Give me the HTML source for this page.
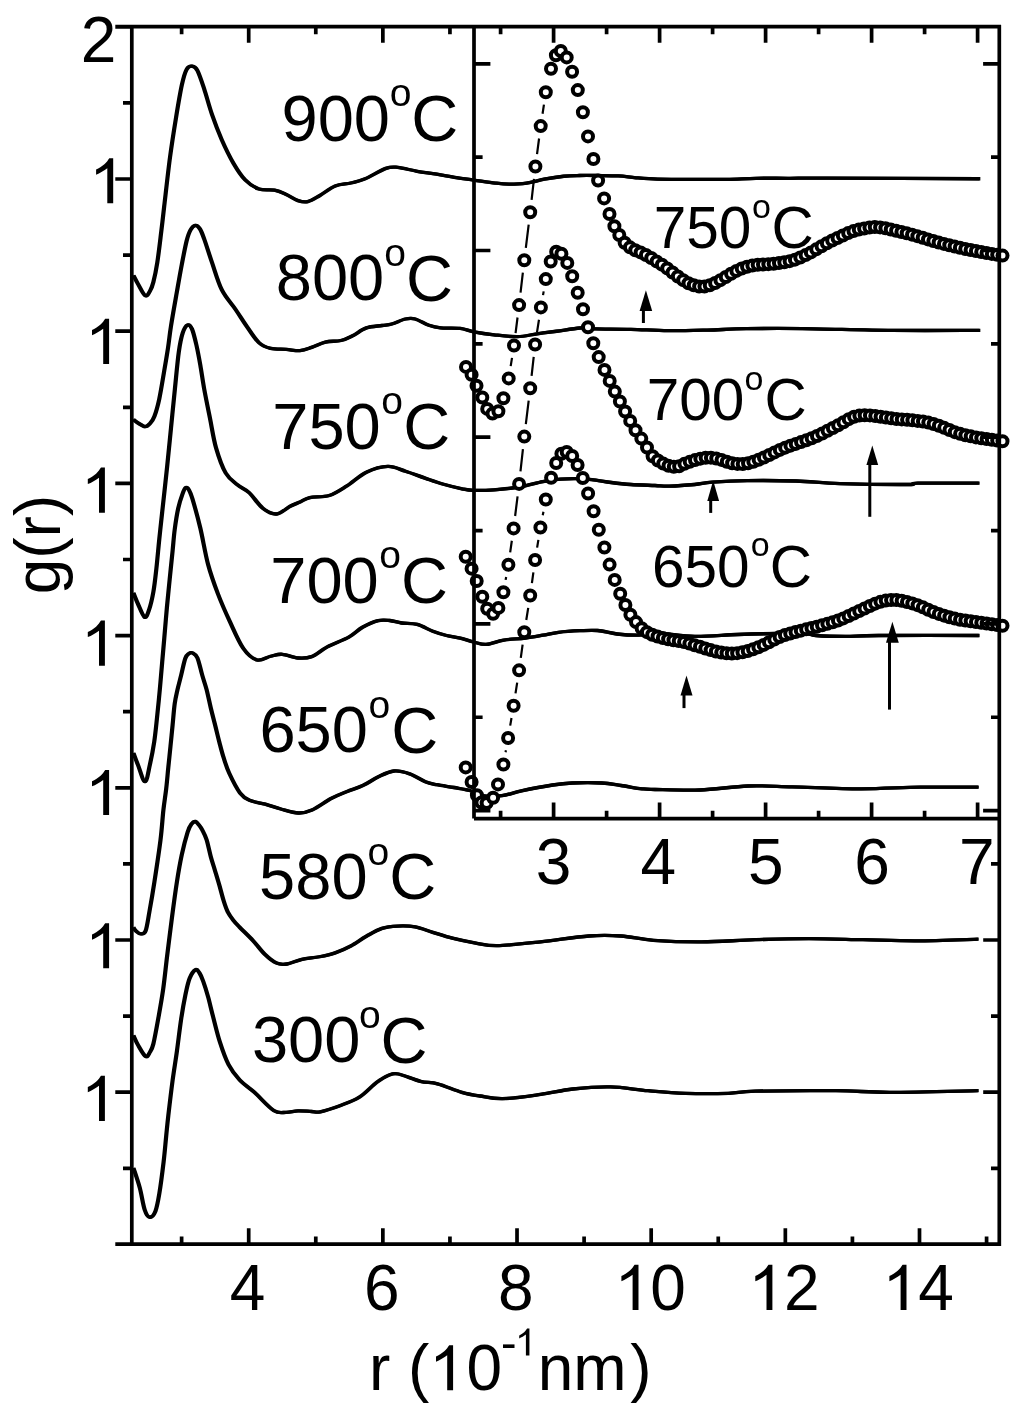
<!DOCTYPE html><html><head><meta charset="utf-8"><style>html,body{margin:0;padding:0;background:#fff;}svg{display:block;filter:grayscale(1);}text{font-family:"Liberation Sans",sans-serif;fill:#000;}</style></head><body>
<svg width="1024" height="1413" viewBox="0 0 1024 1413">
<rect width="1024" height="1413" fill="#fff"/>
<defs><path id="one" d="M0.373,0 L0.373,-0.705 L0.312,-0.705 C0.295,-0.68 0.27,-0.64 0.235,-0.61 C0.195,-0.575 0.15,-0.55 0.106,-0.528 L0.106,-0.448 C0.16,-0.47 0.235,-0.51 0.281,-0.548 L0.281,0 Z"/></defs>
<g id="curves" fill="none" stroke="#000" stroke-width="3.3" stroke-linejoin="round" stroke-linecap="butt" transform="translate(-0.45,0)">
<path d="M133.5,275.5 C134.25,276.92 136.05,280.63 138,284 C139.95,287.37 143.2,294.53 145.2,295.7 C147.2,296.87 148.63,293.28 150,291 C151.37,288.72 152.18,286.75 153.4,282 C154.62,277.25 155.98,270.95 157.3,262.5 C158.62,254.05 160.15,240.67 161.3,231.3 C162.45,221.93 162.75,218.62 164.2,206.3 C165.65,193.98 168.05,172.05 170,157.4 C171.95,142.75 173.93,130.43 175.9,118.4 C177.87,106.37 180.02,93.35 181.8,85.2 C183.58,77.05 184.88,72.67 186.6,69.5 C188.32,66.33 190.3,66.03 192.1,66.2 C193.9,66.37 195.38,66.7 197.4,70.5 C199.42,74.3 201.77,81.67 204.2,89 C206.63,96.33 209.07,106.03 212,114.5 C214.93,122.97 218.22,131.67 221.8,139.8 C225.38,147.93 229.6,156.62 233.5,163.3 C237.4,169.98 240.97,175.62 245.2,179.9 C249.43,184.18 254.02,187.28 258.9,189 C263.78,190.72 269.93,189.28 274.5,190.2 C279.07,191.12 282.38,192.77 286.3,194.5 C290.22,196.23 294.42,199.42 298,200.6 C301.58,201.78 304.22,202.42 307.8,201.6 C311.38,200.78 314.93,198.3 319.5,195.7 C324.07,193.1 329.98,188.12 335.2,186 C340.42,183.88 345.92,184.15 350.8,183 C355.68,181.85 358.65,181.53 364.5,179.1 C370.35,176.67 380.37,170.35 385.9,168.4 C391.43,166.45 392.48,166.92 397.7,167.4 C402.92,167.88 410.7,170.17 417.2,171.3 C423.7,172.43 430.19,173.13 436.7,174.2 C443.21,175.27 450.07,176.72 456.25,177.7 C462.43,178.68 467.28,179.2 473.8,180.1 C480.32,181 489.53,182.43 495.4,183.1 C501.27,183.77 503.8,184.1 509,184.1 C514.2,184.1 520.73,183.92 526.6,183.1 C532.47,182.28 538.01,180.34 544.2,179.2 C550.39,178.06 557.88,176.87 563.75,176.25 C569.62,175.63 573.86,175.62 579.4,175.5 C584.94,175.38 590.5,175.43 597,175.5 C603.5,175.57 611.9,175.52 618.4,175.9 C624.9,176.28 629.48,177.25 636,177.8 C642.52,178.35 648.88,178.95 657.5,179.2 C666.12,179.45 676.17,179.28 687.7,179.3 C699.23,179.32 715.32,179.47 726.7,179.3 C738.08,179.13 745.45,178.47 756,178.3 C766.55,178.13 778.13,178.33 790,178.3 C801.87,178.27 795.55,178.03 827.2,178.1 C858.85,178.17 954.45,178.64 979.9,178.75"/>
<path d="M133.5,419.5 C134.25,420.08 136.05,421.82 138,423 C139.95,424.18 143.2,426.52 145.2,426.6 C147.2,426.68 148.47,425.2 150,423.5 C151.53,421.8 152.85,420.52 154.4,416.4 C155.95,412.28 157.67,406.37 159.3,398.8 C160.93,391.23 162.75,379.47 164.2,371 C165.65,362.53 166.87,355.5 168,348 C169.13,340.5 169.52,335.37 171,326 C172.48,316.63 175.1,302.05 176.9,291.8 C178.7,281.55 180.18,272.97 181.8,264.5 C183.42,256.03 185.15,246.75 186.6,241 C188.05,235.25 189.03,232.6 190.5,230 C191.97,227.4 193.82,225.57 195.4,225.4 C196.98,225.23 198.53,226.73 200,229 C201.47,231.27 202.2,233.42 204.2,239 C206.2,244.58 209.07,254.03 212,262.5 C214.93,270.97 217.88,281.98 221.8,289.8 C225.72,297.62 231.27,303.2 235.5,309.4 C239.73,315.6 243.3,321.47 247.2,327 C251.1,332.53 255,339.03 258.9,342.6 C262.8,346.17 266.03,347.27 270.6,348.4 C275.17,349.53 281.4,349.03 286.3,349.4 C291.2,349.77 295.77,350.93 300,350.6 C304.23,350.27 307.47,348.82 311.7,347.4 C315.93,345.98 320.52,343.25 325.4,342.1 C330.28,340.95 336.45,341.57 341,340.5 C345.55,339.43 348.47,337.8 352.7,335.7 C356.93,333.6 361.52,329.6 366.4,327.9 C371.28,326.2 377.77,326.15 382,325.5 C386.23,324.85 387.88,325.08 391.8,324 C395.72,322.92 401.6,319.83 405.5,319 C409.4,318.17 411.3,317.95 415.2,319 C419.1,320.05 424.67,323.82 428.9,325.3 C433.13,326.78 435.38,327.38 440.6,327.9 C445.82,328.42 454.67,327.75 460.2,328.4 C465.73,329.05 468.15,330.73 473.8,331.8 C479.45,332.87 486.82,333.98 494.1,334.8 C501.38,335.62 510.35,336.87 517.5,336.7 C524.65,336.53 530.48,334.71 537,333.8 C543.52,332.89 549.43,332.22 556.6,331.25 C563.77,330.28 573.5,328.39 580,328 C586.5,327.61 587.13,328.68 595.6,328.9 C604.07,329.12 618.72,329 630.8,329.3 C642.88,329.6 655.37,330.57 668.1,330.7 C680.83,330.83 694.18,330.43 707.2,330.1 C720.23,329.77 730.37,328.95 746.25,328.7 C762.13,328.45 778.16,328.32 802.5,328.6 C826.84,328.88 862.73,330.1 892.3,330.4 C921.87,330.7 965.3,330.4 979.9,330.4"/>
<path d="M133.5,593 C134.25,594.83 136.15,599.97 138,604 C139.85,608.03 142.77,616.2 144.6,617.2 C146.43,618.2 147.53,614.23 149,610 C150.47,605.77 152.17,598.73 153.4,591.8 C154.63,584.87 155.42,577.2 156.4,568.4 C157.38,559.6 158.33,548.4 159.3,539 C160.27,529.6 160.9,524 162.2,512 C163.5,500 165.63,481 167.1,467 C168.57,453 169.7,441 171,428 C172.3,415 173.6,401.67 174.9,389 C176.2,376.33 177.5,361.33 178.8,352 C180.1,342.67 181.23,337.5 182.7,333 C184.17,328.5 186.05,325.67 187.6,325 C189.15,324.33 190.53,325.67 192,329 C193.47,332.33 195.02,339 196.4,345 C197.78,351 199,357.67 200.3,365 C201.6,372.33 202.58,380.1 204.2,389 C205.82,397.9 208.03,408.62 210,418.4 C211.97,428.18 213.38,438.6 216,447.7 C218.62,456.8 222.13,466.82 225.7,473 C229.27,479.18 233.5,481.53 237.4,484.8 C241.3,488.07 244.87,488.7 249.1,492.6 C253.33,496.5 258.23,504.63 262.8,508.2 C267.37,511.77 271.93,514.32 276.5,514 C281.07,513.68 286.28,508.3 290.2,506.3 C294.12,504.3 296.73,503.45 300,502 C303.27,500.55 304.92,498.68 309.8,497.6 C314.68,496.52 323.12,497.45 329.3,495.5 C335.48,493.55 340.72,489.78 346.9,485.9 C353.08,482.02 359.57,475.45 366.4,472.2 C373.23,468.95 381.38,466.56 387.9,466.4 C394.42,466.24 399.32,469.3 405.5,471.25 C411.68,473.2 418.82,475.98 425,478.1 C431.18,480.23 436.42,482.22 442.6,484 C448.78,485.78 456.9,487.73 462.1,488.8 C467.3,489.87 468.47,490.23 473.8,490.4 C479.13,490.57 486.48,490.37 494.1,489.8 C501.72,489.23 511.37,488.37 519.5,487 C527.63,485.63 536.07,482.9 542.9,481.6 C549.73,480.3 554.97,479.7 560.5,479.2 C566.03,478.7 570.9,478.53 576.1,478.6 C581.3,478.67 585.84,478.95 591.7,479.6 C597.56,480.25 604.73,481.68 611.25,482.5 C617.77,483.32 623.51,484 630.8,484.5 C638.09,485 648.58,485.23 655,485.5 C661.42,485.77 662.68,486.27 669.3,486.1 C675.92,485.93 687.53,485.15 694.7,484.5 C701.87,483.85 703.52,482.85 712.3,482.2 C721.08,481.55 733.41,480.8 747.4,480.6 C761.39,480.4 780.82,480.51 796.25,481 C811.68,481.49 821.39,482.97 840,483.55 C858.61,484.13 894.95,484.56 907.9,484.5 C920.85,484.44 905.82,483.42 917.7,483.2 C929.58,482.98 968.95,483.2 979.2,483.2"/>
<path d="M133.5,753 C134.25,755 136.08,760.23 138,765 C139.92,769.77 143.02,781.67 145,781.6 C146.98,781.53 148.37,771.2 149.9,764.6 C151.43,758 153.02,749.78 154.2,742 C155.38,734.22 156.07,726.63 157,717.9 C157.93,709.17 158.93,698.92 159.8,689.6 C160.67,680.28 161.45,670.6 162.2,662 C162.95,653.4 163.52,647.08 164.3,638 C165.08,628.92 166,617.32 166.9,607.5 C167.8,597.68 168.75,588.55 169.7,579.1 C170.65,569.65 171.77,559.05 172.6,550.8 C173.43,542.55 173.77,536.68 174.7,529.6 C175.63,522.52 176.9,514.23 178.2,508.3 C179.5,502.37 181.25,497.43 182.5,494 C183.75,490.57 184.62,488.37 185.7,487.7 C186.78,487.03 187.87,488.12 189,490 C190.13,491.88 190.62,492.67 192.5,499 C194.38,505.33 197.7,517.08 200.3,528 C202.9,538.92 205.17,553.54 208.1,564.5 C211.03,575.46 214.32,584.33 217.9,593.75 C221.48,603.17 225.37,611.89 229.6,621 C233.83,630.11 238.73,641.9 243.3,648.4 C247.87,654.9 252.45,658.69 257,660 C261.55,661.31 266.38,657.2 270.6,656.25 C274.82,655.3 277.73,654.01 282.3,654.3 C286.87,654.59 293.1,657.62 298,658 C302.9,658.38 306.82,658.45 311.7,656.6 C316.58,654.75 321.12,650.15 327.3,646.9 C333.48,643.65 342.93,640.37 348.8,637.1 C354.67,633.83 357.62,630.05 362.5,627.3 C367.38,624.55 373.55,621.73 378.1,620.6 C382.65,619.47 385.88,620.1 389.8,620.5 C393.72,620.9 397.03,622.35 401.6,623 C406.17,623.65 412,623.02 417.2,624.4 C422.4,625.77 427.92,629.4 432.8,631.25 C437.68,633.1 441.93,634.36 446.5,635.5 C451.07,636.64 455.65,637.02 460.2,638.1 C464.75,639.18 469.46,640.95 473.8,642 C478.14,643.05 481.25,644.72 486.25,644.4 C491.25,644.08 497.29,641.15 503.8,640.1 C510.31,639.05 518.78,638.92 525.3,638.1 C531.82,637.28 537.37,636.17 542.9,635.2 C548.43,634.23 552.32,633.05 558.5,632.3 C564.68,631.55 573.48,631 580,630.7 C586.52,630.4 591.42,629.95 597.6,630.5 C603.78,631.05 610.27,633.22 617.1,634 C623.93,634.78 631.53,635.28 638.6,635.2 C645.67,635.12 650.15,633.3 659.5,633.5 C668.85,633.7 681.67,636.23 694.7,636.4 C707.73,636.57 724.03,634.98 737.7,634.5 C751.37,634.02 765.32,633.67 776.7,633.5 C788.08,633.33 799.48,633.17 806,633.5 C812.52,633.83 809.23,635.02 815.8,635.5 C822.37,635.98 834.93,636.4 845.4,636.4 C855.87,636.4 856.3,635.65 878.6,635.5 C900.9,635.35 962.43,635.5 979.2,635.5"/>
<path d="M133.5,927.5 C133.92,928.08 134.8,929.95 136,931 C137.2,932.05 139.1,933.82 140.7,933.8 C142.3,933.78 144.13,934.65 145.6,930.9 C147.07,927.15 148.03,919.45 149.5,911.3 C150.97,903.15 152.57,893.88 154.4,882 C156.23,870.12 159,852 160.5,840 C162,828 162.45,818.55 163.4,810 C164.35,801.45 165.38,795.78 166.2,788.7 C167.02,781.62 167.58,774.58 168.3,767.5 C169.02,760.42 169.78,753.28 170.5,746.2 C171.22,739.12 171.9,732.08 172.6,725 C173.3,717.92 173.88,709.6 174.7,703.7 C175.52,697.8 176.43,694.32 177.5,689.6 C178.57,684.88 179.8,680.6 181.1,675.4 C182.4,670.2 183.98,662.05 185.3,658.4 C186.62,654.75 187.8,654.42 189,653.5 C190.2,652.58 191.1,652.18 192.5,652.9 C193.9,653.62 195.77,654.05 197.4,657.8 C199.03,661.55 200.77,670.1 202.3,675.4 C203.83,680.7 205.18,684.17 206.6,689.6 C208.02,695.03 209.38,702.1 210.8,708 C212.22,713.9 213.68,719.33 215.1,725 C216.52,730.67 217.88,736.57 219.3,742 C220.72,747.43 221.95,752.42 223.6,757.6 C225.25,762.78 226.47,767.22 229.2,773.1 C231.93,778.98 236.62,788.37 240,792.9 C243.38,797.43 245.3,798.42 249.5,800.3 C253.7,802.18 259.98,802.75 265.2,804.2 C270.42,805.65 275.27,807.53 280.8,809 C286.33,810.47 293.2,812.83 298.4,813 C303.6,813.17 306.47,812.45 312,810 C317.53,807.55 325.73,801.38 331.6,798.3 C337.47,795.22 342,793.62 347.2,791.5 C352.4,789.38 357.6,788.05 362.8,785.6 C368,783.15 373.2,779.23 378.4,776.8 C383.6,774.37 388.78,771.48 394,771 C399.22,770.52 404.48,772.12 409.7,773.9 C414.92,775.68 420.8,779.9 425.3,781.7 C429.8,783.5 431.92,783.73 436.7,784.7 C441.48,785.67 448.47,786.53 454,787.5 C459.53,788.47 465.5,789.2 469.9,790.5 C474.3,791.8 475.07,794.43 480.4,795.3 C485.73,796.17 495.07,796.45 501.9,795.7 C508.73,794.95 512.93,792.58 521.4,790.8 C529.87,789.02 544.23,786.3 552.7,785 C561.17,783.7 564.07,783.33 572.2,783 C580.33,782.67 593.37,782.58 601.5,783 C609.63,783.42 614.25,784.53 621,785.5 C627.75,786.47 636.33,788.13 642,788.8 C647.67,789.47 645.32,789.3 655,789.5 C664.68,789.7 684.58,790.58 700.1,790 C715.62,789.42 732.75,786.53 748.1,786 C763.45,785.47 773.52,786.33 792.2,786.8 C810.88,787.27 838.85,788.73 860.2,788.8 C881.55,788.87 900.6,787.47 920.3,787.2 C940,786.93 968.72,787.2 978.4,787.2"/>
<path d="M133.5,1035.5 C134.25,1037.08 135.98,1041.52 138,1045 C140.02,1048.48 143.6,1055.23 145.6,1056.4 C147.6,1057.57 148.7,1054.11 150,1052 C151.3,1049.89 152.02,1049.35 153.4,1043.75 C154.78,1038.15 156.67,1027.53 158.3,1018.4 C159.93,1009.27 161.73,999.36 163.2,989 C164.67,978.64 165.63,968.22 167.1,956.25 C168.57,944.28 170.37,929.58 172,917.2 C173.63,904.83 175.27,892.42 176.9,882 C178.53,871.58 180.02,863 181.8,854.7 C183.58,846.4 185.98,837.32 187.6,832.2 C189.22,827.08 190.2,825.78 191.5,824 C192.8,822.22 194.15,821.33 195.4,821.5 C196.65,821.67 197.85,823.58 199,825 C200.15,826.42 201.03,827.55 202.3,830 C203.57,832.45 205.18,835.25 206.6,839.7 C208.02,844.15 209.38,851.5 210.8,856.7 C212.22,861.9 213.68,866.18 215.1,870.9 C216.52,875.62 217.88,880.05 219.3,885 C220.72,889.95 222.18,896.1 223.6,900.6 C225.02,905.1 226.15,908.7 227.8,912 C229.45,915.3 231.57,917.9 233.5,920.4 C235.43,922.9 236.15,923.63 239.4,927 C242.65,930.37 248.77,936.05 253,940.6 C257.23,945.15 260.88,950.55 264.8,954.3 C268.72,958.05 272.8,961.48 276.5,963.1 C280.2,964.72 282.77,964.63 287,964 C291.23,963.37 296.48,960.51 301.9,959.3 C307.32,958.09 313.95,957.83 319.5,956.75 C325.05,955.67 329.98,954.64 335.2,952.85 C340.42,951.06 345.6,948.77 350.8,946 C356,943.23 361.2,939.18 366.4,936.25 C371.6,933.32 376.78,930.09 382,928.4 C387.22,926.71 392.17,926.35 397.7,926.1 C403.23,925.85 409.35,925.87 415.2,926.9 C421.05,927.93 426.62,930.42 432.8,932.3 C438.98,934.18 445.13,936.4 452.3,938.2 C459.47,940 468.25,941.86 475.8,943.1 C483.35,944.34 486.8,945.85 497.6,945.65 C508.4,945.45 525.38,943.51 540.6,941.9 C555.82,940.29 575.48,936.98 588.9,936 C602.32,935.02 610.35,935.28 621.1,936 C631.85,936.72 639.97,939.32 653.4,940.3 C666.83,941.28 684.7,942 701.7,941.9 C718.7,941.8 737.52,940.23 755.4,939.7 C773.28,939.17 791.1,938.7 809,938.7 C826.9,938.7 844.88,939.35 862.8,939.7 C880.72,940.05 897.25,940.88 916.5,940.8 C935.75,940.72 968,939.47 978.3,939.2"/>
<path d="M133.5,1168 C134.55,1171.32 137.95,1181 139.8,1187.9 C141.65,1194.8 142.98,1204.52 144.6,1209.4 C146.22,1214.28 147.7,1216.88 149.5,1217.2 C151.3,1217.52 153.77,1215.21 155.4,1211.3 C157.03,1207.39 157.93,1201.97 159.3,1193.75 C160.67,1185.53 162.45,1171.62 163.6,1162 C164.75,1152.38 165.42,1143.7 166.2,1136 C166.98,1128.3 167.23,1125.07 168.3,1115.8 C169.37,1106.53 171.18,1091.03 172.6,1080.4 C174.02,1069.77 175.38,1062.15 176.8,1052 C178.22,1041.85 179.68,1028.93 181.1,1019.5 C182.52,1010.07 183.88,1002.25 185.3,995.4 C186.72,988.55 187.88,982.68 189.6,978.4 C191.32,974.12 193.95,970.6 195.6,969.7 C197.25,968.8 198.23,971.08 199.5,973 C200.77,974.92 201.77,977.27 203.2,981.25 C204.63,985.23 206.47,991.04 208.1,996.9 C209.73,1002.76 211.05,1008.92 213,1016.4 C214.95,1023.88 217.22,1033.78 219.8,1041.8 C222.38,1049.82 225.17,1058.12 228.5,1064.5 C231.83,1070.88 235.48,1075.47 239.8,1080.1 C244.12,1084.73 248.72,1087.22 254.4,1092.3 C260.08,1097.38 268.59,1107.27 273.9,1110.6 C279.21,1113.93 282.23,1112.27 286.25,1112.3 C290.27,1112.33 293.77,1110.93 298,1110.8 C302.23,1110.67 307.88,1111.33 311.6,1111.5 C315.32,1111.67 315.58,1112.77 320.3,1111.8 C325.02,1110.83 333.38,1108.13 339.9,1105.7 C346.42,1103.27 353.3,1101.07 359.4,1097.2 C365.5,1093.33 371.62,1086.17 376.5,1082.5 C381.38,1078.83 385.03,1076.62 388.7,1075.2 C392.37,1073.78 393.22,1072.98 398.5,1074 C403.78,1075.02 413.9,1079.67 420.4,1081.3 C426.9,1082.93 430.58,1081.97 437.5,1083.8 C444.42,1085.63 454.82,1090.27 461.9,1092.3 C468.98,1094.33 473.15,1094.93 480,1096 C486.85,1097.07 492.9,1098.97 503,1098.7 C513.1,1098.43 528.97,1096.02 540.6,1094.4 C552.23,1092.78 561.17,1090.25 572.8,1089 C584.43,1087.75 597.87,1086.62 610.4,1086.9 C622.93,1087.18 635.47,1089.63 648,1090.7 C660.53,1091.77 672.18,1092.87 685.6,1093.3 C699.02,1093.73 716.87,1093.65 728.5,1093.3 C740.13,1092.95 737.48,1091.63 755.4,1091.2 C773.32,1090.77 813.63,1090.52 836,1090.7 C858.37,1090.88 865.88,1092.3 889.6,1092.3 C913.32,1092.3 963.52,1090.97 978.3,1090.7"/>
</g>
<use href="#curves" transform="translate(0.9,0)"/>
<path d="M510.69,366.06L512.01,357.84M515.57,333.1L517.53,317.5M520.54,292.68L522.86,272.62M525.82,247.79L528.68,224.61M531.61,199.78L533.99,178.92M537.03,154.11L539.07,138.49M542.56,113.74L543.94,104.56M505.64,579.9L506.16,577M510.17,552.33L511.83,540.77M515.13,515.99L517.57,496.31M520.47,471.47L522.93,449.03M525.82,424.19L528.68,400.71M531.59,375.88L533.71,356.92M537.03,332.15L538.97,319.75M543.03,295.08L543.67,291.42M505.58,752.19L505.92,750.31M510.2,725.68L511.5,718.02M515.52,693.35L517.18,682.7M520.79,657.97L522.61,644.68M526.28,619.96L528.22,607.84M531.91,583.12L533.39,572.38M537.11,547.66L538.39,539.84M542.77,515.23L543.43,511.77" fill="none" stroke="#000" stroke-width="2.2"/>
<g fill="#fff" stroke="#000" stroke-width="4.0">
<circle cx="466" cy="366.9" r="5.0"/>
<circle cx="471.6" cy="374.8" r="5.0"/>
<circle cx="476.5" cy="385.7" r="5.0"/>
<circle cx="482.3" cy="397.5" r="5.0"/>
<circle cx="487.2" cy="408.9" r="5.0"/>
<circle cx="492.5" cy="413.6" r="5.0"/>
<circle cx="498.4" cy="411.25" r="5.0"/>
<circle cx="503.4" cy="398.2" r="5.0"/>
<circle cx="508.7" cy="378.4" r="5.0"/>
<circle cx="514" cy="345.5" r="5.0"/>
<circle cx="519.1" cy="305.1" r="5.0"/>
<circle cx="524.3" cy="260.2" r="5.0"/>
<circle cx="530.2" cy="212.2" r="5.0"/>
<circle cx="535.4" cy="166.5" r="5.0"/>
<circle cx="540.7" cy="126.1" r="5.0"/>
<circle cx="545.8" cy="92.2" r="5.0"/>
<circle cx="551" cy="68.75" r="5.0"/>
<circle cx="555.9" cy="55.3" r="5.0"/>
<circle cx="560.8" cy="51" r="5.0"/>
<circle cx="566.7" cy="57.4" r="5.0"/>
<circle cx="572.1" cy="71.7" r="5.0"/>
<circle cx="577.8" cy="90.1" r="5.0"/>
<circle cx="582.9" cy="112.2" r="5.0"/>
<circle cx="588" cy="136.4" r="5.0"/>
<circle cx="593.4" cy="159" r="5.0"/>
<circle cx="598.1" cy="180.5" r="5.0"/>
<circle cx="604.1" cy="198.4" r="5.0"/>
<circle cx="609.5" cy="214" r="5.0"/>
<circle cx="614.4" cy="226.2" r="5.0"/>
<circle cx="619.3" cy="235" r="5.0"/>
<circle cx="624.62" cy="242.75" r="5.0"/>
<circle cx="629.94" cy="247.34" r="5.0"/>
<circle cx="635.27" cy="250.19" r="5.0"/>
<circle cx="640.59" cy="252.4" r="5.0"/>
<circle cx="645.91" cy="254.96" r="5.0"/>
<circle cx="651.23" cy="257.98" r="5.0"/>
<circle cx="656.56" cy="261.4" r="5.0"/>
<circle cx="661.88" cy="264.67" r="5.0"/>
<circle cx="667.2" cy="268.4" r="5.0"/>
<circle cx="672.52" cy="272.49" r="5.0"/>
<circle cx="677.84" cy="276.52" r="5.0"/>
<circle cx="683.17" cy="280.16" r="5.0"/>
<circle cx="688.49" cy="283.18" r="5.0"/>
<circle cx="693.81" cy="285.21" r="5.0"/>
<circle cx="699.13" cy="286.55" r="5.0"/>
<circle cx="704.46" cy="286.48" r="5.0"/>
<circle cx="709.78" cy="285.25" r="5.0"/>
<circle cx="715.1" cy="283.03" r="5.0"/>
<circle cx="720.42" cy="280.16" r="5.0"/>
<circle cx="725.74" cy="276.93" r="5.0"/>
<circle cx="731.07" cy="273.74" r="5.0"/>
<circle cx="736.39" cy="270.88" r="5.0"/>
<circle cx="741.71" cy="268.43" r="5.0"/>
<circle cx="747.03" cy="266.69" r="5.0"/>
<circle cx="752.36" cy="265.51" r="5.0"/>
<circle cx="757.68" cy="264.77" r="5.0"/>
<circle cx="763" cy="264.48" r="5.0"/>
<circle cx="768.32" cy="264.13" r="5.0"/>
<circle cx="773.64" cy="263.77" r="5.0"/>
<circle cx="778.97" cy="263.08" r="5.0"/>
<circle cx="784.29" cy="262.23" r="5.0"/>
<circle cx="789.61" cy="261.16" r="5.0"/>
<circle cx="794.93" cy="259.63" r="5.0"/>
<circle cx="800.26" cy="257.55" r="5.0"/>
<circle cx="805.58" cy="255.1" r="5.0"/>
<circle cx="810.9" cy="252.41" r="5.0"/>
<circle cx="816.22" cy="249.36" r="5.0"/>
<circle cx="821.54" cy="246.18" r="5.0"/>
<circle cx="826.87" cy="243.26" r="5.0"/>
<circle cx="832.19" cy="240.54" r="5.0"/>
<circle cx="837.51" cy="237.94" r="5.0"/>
<circle cx="842.83" cy="235.47" r="5.0"/>
<circle cx="848.16" cy="233.08" r="5.0"/>
<circle cx="853.48" cy="231.1" r="5.0"/>
<circle cx="858.8" cy="229.61" r="5.0"/>
<circle cx="864.12" cy="228.43" r="5.0"/>
<circle cx="869.44" cy="227.55" r="5.0"/>
<circle cx="874.77" cy="227.08" r="5.0"/>
<circle cx="880.09" cy="227.38" r="5.0"/>
<circle cx="885.41" cy="228.23" r="5.0"/>
<circle cx="890.73" cy="229.44" r="5.0"/>
<circle cx="896.06" cy="230.72" r="5.0"/>
<circle cx="901.38" cy="231.98" r="5.0"/>
<circle cx="906.7" cy="233.27" r="5.0"/>
<circle cx="912.02" cy="234.64" r="5.0"/>
<circle cx="917.34" cy="236.13" r="5.0"/>
<circle cx="922.67" cy="237.74" r="5.0"/>
<circle cx="927.99" cy="239.38" r="5.0"/>
<circle cx="933.31" cy="240.99" r="5.0"/>
<circle cx="938.63" cy="242.49" r="5.0"/>
<circle cx="943.96" cy="243.9" r="5.0"/>
<circle cx="949.28" cy="245.24" r="5.0"/>
<circle cx="954.6" cy="246.53" r="5.0"/>
<circle cx="959.92" cy="247.75" r="5.0"/>
<circle cx="965.24" cy="248.9" r="5.0"/>
<circle cx="970.57" cy="249.98" r="5.0"/>
<circle cx="975.89" cy="251.02" r="5.0"/>
<circle cx="981.21" cy="252.02" r="5.0"/>
<circle cx="986.53" cy="252.97" r="5.0"/>
<circle cx="991.86" cy="253.88" r="5.0"/>
<circle cx="997.18" cy="254.75" r="5.0"/>
<circle cx="1002.5" cy="255.6" r="5.0"/>
<circle cx="465.7" cy="556.75" r="5.0"/>
<circle cx="471.6" cy="568.65" r="5.0"/>
<circle cx="476.7" cy="581" r="5.0"/>
<circle cx="482.3" cy="596.7" r="5.0"/>
<circle cx="487.2" cy="608.8" r="5.0"/>
<circle cx="493.1" cy="613.7" r="5.0"/>
<circle cx="498.4" cy="607.9" r="5.0"/>
<circle cx="503.4" cy="592.2" r="5.0"/>
<circle cx="508.4" cy="564.7" r="5.0"/>
<circle cx="513.6" cy="528.4" r="5.0"/>
<circle cx="519.1" cy="483.9" r="5.0"/>
<circle cx="524.3" cy="436.6" r="5.0"/>
<circle cx="530.2" cy="388.3" r="5.0"/>
<circle cx="535.1" cy="344.5" r="5.0"/>
<circle cx="540.9" cy="307.4" r="5.0"/>
<circle cx="545.8" cy="279.1" r="5.0"/>
<circle cx="550.7" cy="261.5" r="5.0"/>
<circle cx="556.2" cy="251.8" r="5.0"/>
<circle cx="561.4" cy="253.7" r="5.0"/>
<circle cx="567.3" cy="262.9" r="5.0"/>
<circle cx="572.2" cy="276.2" r="5.0"/>
<circle cx="577.7" cy="292.8" r="5.0"/>
<circle cx="583" cy="309.3" r="5.0"/>
<circle cx="588" cy="327.3" r="5.0"/>
<circle cx="593.3" cy="343.2" r="5.0"/>
<circle cx="598.7" cy="357.1" r="5.0"/>
<circle cx="604.5" cy="369.9" r="5.0"/>
<circle cx="609.7" cy="380.9" r="5.0"/>
<circle cx="614.8" cy="391.6" r="5.0"/>
<circle cx="619.9" cy="401.5" r="5.0"/>
<circle cx="625.1" cy="411.5" r="5.0"/>
<circle cx="630.2" cy="420.9" r="5.0"/>
<circle cx="635.5" cy="430.3" r="5.0"/>
<circle cx="641.3" cy="438.6" r="5.0"/>
<circle cx="647" cy="447.5" r="5.0"/>
<circle cx="652.6" cy="456.3" r="5.0"/>
<circle cx="657.9" cy="460.46" r="5.0"/>
<circle cx="663.2" cy="463.58" r="5.0"/>
<circle cx="668.5" cy="465.74" r="5.0"/>
<circle cx="673.81" cy="466.78" r="5.0"/>
<circle cx="679.11" cy="466.34" r="5.0"/>
<circle cx="684.41" cy="463.83" r="5.0"/>
<circle cx="689.71" cy="461.86" r="5.0"/>
<circle cx="695.01" cy="460.1" r="5.0"/>
<circle cx="700.31" cy="458.64" r="5.0"/>
<circle cx="705.62" cy="457.78" r="5.0"/>
<circle cx="710.92" cy="457.64" r="5.0"/>
<circle cx="716.22" cy="458.51" r="5.0"/>
<circle cx="721.52" cy="459.92" r="5.0"/>
<circle cx="726.82" cy="461.82" r="5.0"/>
<circle cx="732.12" cy="463.19" r="5.0"/>
<circle cx="737.42" cy="463.9" r="5.0"/>
<circle cx="742.73" cy="463.94" r="5.0"/>
<circle cx="748.03" cy="463.29" r="5.0"/>
<circle cx="753.33" cy="461.8" r="5.0"/>
<circle cx="758.63" cy="459.69" r="5.0"/>
<circle cx="763.93" cy="457.46" r="5.0"/>
<circle cx="769.23" cy="455.04" r="5.0"/>
<circle cx="774.53" cy="452.41" r="5.0"/>
<circle cx="779.84" cy="449.89" r="5.0"/>
<circle cx="785.14" cy="447.66" r="5.0"/>
<circle cx="790.44" cy="445.67" r="5.0"/>
<circle cx="795.74" cy="443.92" r="5.0"/>
<circle cx="801.04" cy="442.11" r="5.0"/>
<circle cx="806.34" cy="440.22" r="5.0"/>
<circle cx="811.65" cy="438.21" r="5.0"/>
<circle cx="816.95" cy="436.04" r="5.0"/>
<circle cx="822.25" cy="433.48" r="5.0"/>
<circle cx="827.55" cy="430.73" r="5.0"/>
<circle cx="832.85" cy="427.98" r="5.0"/>
<circle cx="838.15" cy="425.18" r="5.0"/>
<circle cx="843.45" cy="422.24" r="5.0"/>
<circle cx="848.76" cy="419.17" r="5.0"/>
<circle cx="854.06" cy="416.81" r="5.0"/>
<circle cx="859.36" cy="415.62" r="5.0"/>
<circle cx="864.66" cy="415.21" r="5.0"/>
<circle cx="869.96" cy="415.38" r="5.0"/>
<circle cx="875.26" cy="416.03" r="5.0"/>
<circle cx="880.57" cy="416.76" r="5.0"/>
<circle cx="885.87" cy="417.59" r="5.0"/>
<circle cx="891.17" cy="418.36" r="5.0"/>
<circle cx="896.47" cy="418.93" r="5.0"/>
<circle cx="901.77" cy="419.38" r="5.0"/>
<circle cx="907.07" cy="419.83" r="5.0"/>
<circle cx="912.37" cy="420.36" r="5.0"/>
<circle cx="917.68" cy="420.88" r="5.0"/>
<circle cx="922.98" cy="421.56" r="5.0"/>
<circle cx="928.28" cy="422.6" r="5.0"/>
<circle cx="933.58" cy="424.06" r="5.0"/>
<circle cx="938.88" cy="425.82" r="5.0"/>
<circle cx="944.18" cy="427.86" r="5.0"/>
<circle cx="949.48" cy="430.06" r="5.0"/>
<circle cx="954.79" cy="432.14" r="5.0"/>
<circle cx="960.09" cy="433.83" r="5.0"/>
<circle cx="965.39" cy="435.21" r="5.0"/>
<circle cx="970.69" cy="436.37" r="5.0"/>
<circle cx="975.99" cy="437.39" r="5.0"/>
<circle cx="981.29" cy="438.23" r="5.0"/>
<circle cx="986.6" cy="438.99" r="5.0"/>
<circle cx="991.9" cy="439.76" r="5.0"/>
<circle cx="997.2" cy="440.48" r="5.0"/>
<circle cx="1002.5" cy="441.19" r="5.0"/>
<circle cx="465.7" cy="767.4" r="5.0"/>
<circle cx="471.6" cy="782" r="5.0"/>
<circle cx="476.9" cy="795.3" r="5.0"/>
<circle cx="481.4" cy="802.5" r="5.0"/>
<circle cx="486.6" cy="803.1" r="5.0"/>
<circle cx="493.1" cy="797.7" r="5.0"/>
<circle cx="498" cy="784.4" r="5.0"/>
<circle cx="503.4" cy="764.5" r="5.0"/>
<circle cx="508.1" cy="738" r="5.0"/>
<circle cx="513.6" cy="705.7" r="5.0"/>
<circle cx="519.1" cy="670.35" r="5.0"/>
<circle cx="524.3" cy="632.3" r="5.0"/>
<circle cx="530.2" cy="595.5" r="5.0"/>
<circle cx="535.1" cy="560" r="5.0"/>
<circle cx="540.4" cy="527.5" r="5.0"/>
<circle cx="545.8" cy="499.5" r="5.0"/>
<circle cx="551.1" cy="477.7" r="5.0"/>
<circle cx="556.2" cy="463" r="5.0"/>
<circle cx="561.4" cy="453.8" r="5.0"/>
<circle cx="566.7" cy="451.9" r="5.0"/>
<circle cx="572.2" cy="456" r="5.0"/>
<circle cx="577.6" cy="465" r="5.0"/>
<circle cx="582.8" cy="478" r="5.0"/>
<circle cx="588.1" cy="493.5" r="5.0"/>
<circle cx="593.6" cy="511.3" r="5.0"/>
<circle cx="598.8" cy="529.8" r="5.0"/>
<circle cx="604.4" cy="547.5" r="5.0"/>
<circle cx="609.6" cy="564.6" r="5.0"/>
<circle cx="614.7" cy="579.9" r="5.0"/>
<circle cx="620.2" cy="593.7" r="5.0"/>
<circle cx="625.4" cy="605" r="5.0"/>
<circle cx="630.4" cy="614.7" r="5.0"/>
<circle cx="636" cy="622.1" r="5.0"/>
<circle cx="641.6" cy="628.2" r="5.0"/>
<circle cx="646.91" cy="632.16" r="5.0"/>
<circle cx="652.21" cy="634.68" r="5.0"/>
<circle cx="657.52" cy="636.5" r="5.0"/>
<circle cx="662.83" cy="638.03" r="5.0"/>
<circle cx="668.14" cy="639.26" r="5.0"/>
<circle cx="673.44" cy="640.22" r="5.0"/>
<circle cx="678.75" cy="640.99" r="5.0"/>
<circle cx="684.06" cy="642.07" r="5.0"/>
<circle cx="689.37" cy="643.59" r="5.0"/>
<circle cx="694.67" cy="645.19" r="5.0"/>
<circle cx="699.98" cy="646.82" r="5.0"/>
<circle cx="705.29" cy="648.44" r="5.0"/>
<circle cx="710.6" cy="650.1" r="5.0"/>
<circle cx="715.9" cy="651.51" r="5.0"/>
<circle cx="721.21" cy="652.6" r="5.0"/>
<circle cx="726.52" cy="653.25" r="5.0"/>
<circle cx="731.83" cy="653.45" r="5.0"/>
<circle cx="737.13" cy="653.14" r="5.0"/>
<circle cx="742.44" cy="652.32" r="5.0"/>
<circle cx="747.75" cy="650.97" r="5.0"/>
<circle cx="753.05" cy="649.19" r="5.0"/>
<circle cx="758.36" cy="647.18" r="5.0"/>
<circle cx="763.67" cy="644.89" r="5.0"/>
<circle cx="768.98" cy="642.26" r="5.0"/>
<circle cx="774.28" cy="639.61" r="5.0"/>
<circle cx="779.59" cy="636.97" r="5.0"/>
<circle cx="784.9" cy="635.04" r="5.0"/>
<circle cx="790.21" cy="633.49" r="5.0"/>
<circle cx="795.51" cy="632.06" r="5.0"/>
<circle cx="800.82" cy="630.65" r="5.0"/>
<circle cx="806.13" cy="629.34" r="5.0"/>
<circle cx="811.44" cy="628.06" r="5.0"/>
<circle cx="816.74" cy="626.73" r="5.0"/>
<circle cx="822.05" cy="625.3" r="5.0"/>
<circle cx="827.36" cy="623.86" r="5.0"/>
<circle cx="832.66" cy="622.32" r="5.0"/>
<circle cx="837.97" cy="620.53" r="5.0"/>
<circle cx="843.28" cy="618.39" r="5.0"/>
<circle cx="848.59" cy="615.97" r="5.0"/>
<circle cx="853.89" cy="613.45" r="5.0"/>
<circle cx="859.2" cy="611" r="5.0"/>
<circle cx="864.51" cy="608.49" r="5.0"/>
<circle cx="869.82" cy="605.97" r="5.0"/>
<circle cx="875.12" cy="603.66" r="5.0"/>
<circle cx="880.43" cy="601.85" r="5.0"/>
<circle cx="885.74" cy="600.62" r="5.0"/>
<circle cx="891.05" cy="599.98" r="5.0"/>
<circle cx="896.35" cy="599.97" r="5.0"/>
<circle cx="901.66" cy="600.81" r="5.0"/>
<circle cx="906.97" cy="601.97" r="5.0"/>
<circle cx="912.27" cy="603.42" r="5.0"/>
<circle cx="917.58" cy="605.16" r="5.0"/>
<circle cx="922.89" cy="607.35" r="5.0"/>
<circle cx="928.2" cy="609.79" r="5.0"/>
<circle cx="933.5" cy="611.95" r="5.0"/>
<circle cx="938.81" cy="613.88" r="5.0"/>
<circle cx="944.12" cy="615.63" r="5.0"/>
<circle cx="949.43" cy="617.21" r="5.0"/>
<circle cx="954.73" cy="618.62" r="5.0"/>
<circle cx="960.04" cy="619.75" r="5.0"/>
<circle cx="965.35" cy="620.53" r="5.0"/>
<circle cx="970.66" cy="621.18" r="5.0"/>
<circle cx="975.96" cy="621.93" r="5.0"/>
<circle cx="981.27" cy="622.72" r="5.0"/>
<circle cx="986.58" cy="623.48" r="5.0"/>
<circle cx="991.89" cy="624.22" r="5.0"/>
<circle cx="997.19" cy="624.96" r="5.0"/>
<circle cx="1002.5" cy="625.69" r="5.0"/>
</g>
<path d="M131.8,26.7L131.8,1244.1M115.3,1244.1L1001.1,1244.1M115.3,26.7L1001.1,26.7M999.3,24.9L999.3,1245.9M474,26.7L474,818.6M474,818.6L999.3,818.6M115.3,26.8L131.8,26.8M123,102.9L131.8,102.9M115.3,179L131.8,179M123,255.1L131.8,255.1M115.3,331.2L131.8,331.2M123,407.3L131.8,407.3M115.3,483.4L131.8,483.4M123,559.5L131.8,559.5M115.3,635.6L131.8,635.6M123,711.7L131.8,711.7M115.3,787.8L131.8,787.8M123,863.9L131.8,863.9M115.3,940L131.8,940M123,1016.1L131.8,1016.1M115.3,1092.2L131.8,1092.2M123,1168.3L131.8,1168.3M115.3,1244.1L131.8,1244.1M991,863.9L999.3,863.9M983.2,940L999.3,940M991,1016.1L999.3,1016.1M983.2,1092.2L999.3,1092.2M991,1168.3L999.3,1168.3M181.62,1244.1L181.62,1236.6M248.7,1244.1L248.7,1228.3M315.78,1244.1L315.78,1236.6M382.86,1244.1L382.86,1228.3M449.94,1244.1L449.94,1236.6M517.02,1244.1L517.02,1228.3M584.1,1244.1L584.1,1236.6M651.18,1244.1L651.18,1228.3M718.26,1244.1L718.26,1236.6M785.34,1244.1L785.34,1228.3M852.42,1244.1L852.42,1236.6M919.5,1244.1L919.5,1228.3M986.58,1244.1L986.58,1236.6M181.62,26.7L181.62,34.2M248.7,26.7L248.7,42.7M315.78,26.7L315.78,34.2M382.86,26.7L382.86,42.7M449.94,26.7L449.94,34.2M500.6,26.7L500.6,34.2M500.6,818.6L500.6,810.8M553.6,26.7L553.6,42.7M553.6,818.6L553.6,802.6M606.6,26.7L606.6,34.2M606.6,818.6L606.6,810.8M659.6,26.7L659.6,42.7M659.6,818.6L659.6,802.6M712.6,26.7L712.6,34.2M712.6,818.6L712.6,810.8M765.6,26.7L765.6,42.7M765.6,818.6L765.6,802.6M818.6,26.7L818.6,34.2M818.6,818.6L818.6,810.8M871.6,26.7L871.6,42.7M871.6,818.6L871.6,802.6M924.6,26.7L924.6,34.2M924.6,818.6L924.6,810.8M977.6,26.7L977.6,42.7M977.6,818.6L977.6,802.6M474,63.8L490.4,63.8M999.3,63.8L983.1,63.8M474,157.15L482.6,157.15M999.3,157.15L991,157.15M474,250.5L490.4,250.5M999.3,250.5L983.1,250.5M474,343.85L482.6,343.85M999.3,343.85L991,343.85M474,437.2L490.4,437.2M999.3,437.2L983.1,437.2M474,530.55L482.6,530.55M999.3,530.55L991,530.55M474,623.9L490.4,623.9M999.3,623.9L983.1,623.9M474,717.25L482.6,717.25M999.3,717.25L991,717.25M474,810.6L490.4,810.6M999.3,810.6L983.1,810.6" fill="none" stroke="#000" stroke-width="3.7" stroke-linecap="butt"/>
<path d="M643.4,323L643.4,307" stroke="#000" stroke-width="3" fill="none"/>
<path d="M645.9,290.2L652.2,311L639.6,311Z" fill="#000"/>
<path d="M710.7,512.9L710.7,497.1" stroke="#000" stroke-width="3" fill="none"/>
<path d="M713.2,480.6L719.1,501.1L707.3,501.1Z" fill="#000"/>
<path d="M869.8,516.8L869.8,461" stroke="#000" stroke-width="3" fill="none"/>
<path d="M872.3,445.5L878.2,465L866.4,465Z" fill="#000"/>
<path d="M684,708.1L684,691.6" stroke="#000" stroke-width="3" fill="none"/>
<path d="M686.5,675.5L692.5,695.6L680.5,695.6Z" fill="#000"/>
<path d="M889.5,709.6L889.5,638.7" stroke="#000" stroke-width="3" fill="none"/>
<path d="M892.4,621.7L898.8,642.7L886,642.7Z" fill="#000"/>
<text x="281.55" y="140.95" font-size="65">900</text>
<text x="389.86" y="106.38" font-size="39">o</text>
<text x="411.19" y="141.35" font-size="65">C</text>
<text x="275.81" y="300.25" font-size="65">800</text>
<text x="384.36" y="265.88" font-size="39">o</text>
<text x="406.08" y="300.85" font-size="65">C</text>
<text x="272.29" y="448.6" font-size="65">750</text>
<text x="381.36" y="414.48" font-size="39">o</text>
<text x="403.19" y="448.95" font-size="65">C</text>
<text x="270.29" y="602.5" font-size="65">700</text>
<text x="379.36" y="567.78" font-size="39">o</text>
<text x="401.08" y="602.85" font-size="65">C</text>
<text x="259.38" y="751.85" font-size="65">650</text>
<text x="368.46" y="717.78" font-size="39">o</text>
<text x="391.19" y="752.85" font-size="65">C</text>
<text x="259.1" y="898.85" font-size="65">580</text>
<text x="367.46" y="864.88" font-size="39">o</text>
<text x="389.29" y="899.35" font-size="65">C</text>
<text x="251.93" y="1062.35" font-size="65">300</text>
<text x="358.96" y="1027.88" font-size="39">o</text>
<text x="380.49" y="1062.85" font-size="65">C</text>
<text x="653.72" y="248" font-size="58.5">750</text>
<text x="751.97" y="217.99" font-size="34">o</text>
<text x="771.52" y="248.31" font-size="58.5">C</text>
<text x="646.72" y="419.8" font-size="58.5">700</text>
<text x="744.57" y="389.69" font-size="34">o</text>
<text x="764.42" y="420.02" font-size="58.5">C</text>
<text x="652.02" y="586.51" font-size="58.5">650</text>
<text x="750.67" y="555.69" font-size="34">o</text>
<text x="769.72" y="586.51" font-size="58.5">C</text>
<text x="80.8" y="61.5" font-size="64">2</text>
<use href="#one" transform="translate(89.32,203.3) scale(64)"/>
<use href="#one" transform="translate(85.22,363.9) scale(64)"/>
<use href="#one" transform="translate(81.02,512.7) scale(64)"/>
<use href="#one" transform="translate(81.02,665.7) scale(64)"/>
<use href="#one" transform="translate(85.22,815) scale(64)"/>
<use href="#one" transform="translate(85.22,968.3) scale(64)"/>
<use href="#one" transform="translate(81.02,1120.9) scale(64)"/>
<text x="229.63" y="1309.8" font-size="64">4</text>
<text x="364.04" y="1309.86" font-size="64">6</text>
<text x="498.05" y="1309.86" font-size="64">8</text>
<use href="#one" transform="translate(614.62,1309.9) scale(64)"/>
<text x="650.2" y="1309.9" font-size="64">0</text>
<use href="#one" transform="translate(748.52,1309.9) scale(64)"/>
<text x="784.1" y="1309.9" font-size="64">2</text>
<use href="#one" transform="translate(882.62,1309.9) scale(64)"/>
<text x="918.2" y="1309.9" font-size="64">4</text>
<text x="535.77" y="883.96" font-size="64">3</text>
<text x="640.53" y="884" font-size="64">4</text>
<text x="748.04" y="883.96" font-size="64">5</text>
<text x="854.14" y="883.96" font-size="64">6</text>
<text x="959.04" y="884" font-size="64">7</text>
<text x="368.88" y="1390.3" font-size="64">r (</text>
<use href="#one" transform="translate(429.22,1390.3) scale(64)"/>
<text x="466.5" y="1390.36" font-size="64">0</text>
<rect x="503" y="1344.4" width="11.5" height="3.6"/>
<use href="#one" transform="translate(515.14,1355.6) scale(38.3)"/>
<text x="537.68" y="1390.3" font-size="64">nm</text>
<text x="630.22" y="1390.3" font-size="64">)</text>
<text transform="translate(60.3,594.29) rotate(-90)" font-size="64">g(r)</text>
</svg></body></html>
